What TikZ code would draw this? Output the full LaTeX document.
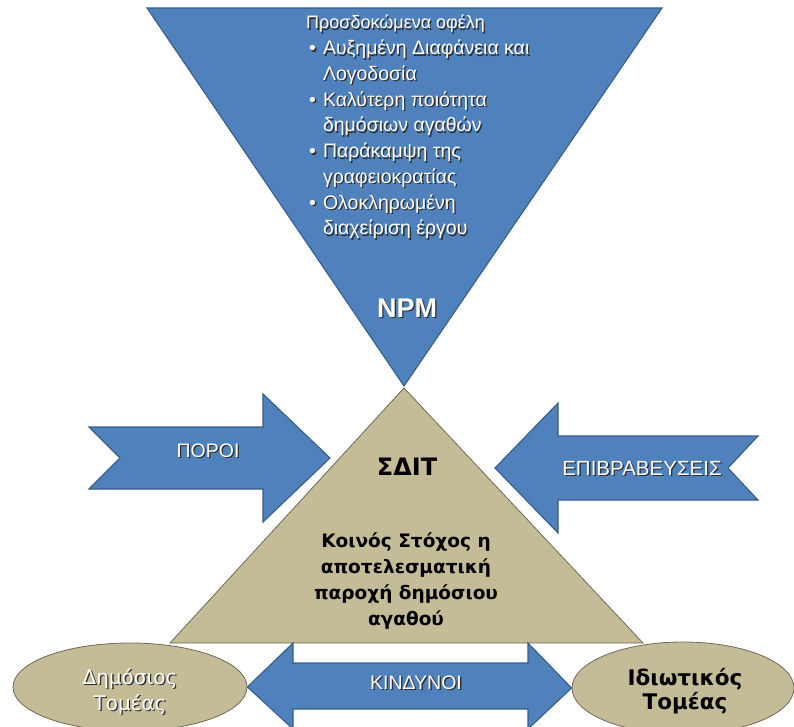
\documentclass[tikz,border=0pt]{standalone}
\usepackage{fontspec}
\setmainfont{Liberation Sans}
\newfontfamily\widesans{DejaVu Sans}
\usetikzlibrary{shapes.geometric}

\definecolor{npmblue}{HTML}{4F81BD}
\definecolor{npmedge}{HTML}{385D8A}
\definecolor{goaltan}{HTML}{C4BC96}
\definecolor{tanedge}{HTML}{6E6954}
\definecolor{textshade}{HTML}{2E2E2E}

\newcommand{\px}[2]{\fontsize{#1}{#2}\selectfont}

% white label with a dark drop shadow
\newcommand{\shadedlabel}[4]{%
  \node[#1, text=textshade, xshift=1.3pt, yshift=-1.3pt] (#2-shade) at #3 {#4};
  \node[#1, text=white] (#2) at #3 {#4};}

\begin{document}
\begin{tikzpicture}[x=1pt, y=-1pt,
  bluebody/.style={fill=npmblue, draw=npmedge, line width=1.1pt, line join=miter},
  tanbody/.style={fill=goaltan, draw=tanedge, line width=0.8pt},
  plain/.style={inner sep=0pt, anchor=base},
  sector/.style={ellipse, fill=goaltan, draw=tanedge, line width=0.8pt, inner sep=0pt}]

\useasboundingbox (0,0) rectangle (794,727);

% NPM funnel and the PPP pyramid
\coordinate (npm-l) at (147,8);
\coordinate (npm-r) at (662,8);
\coordinate (npm-tip) at (404,386);
\draw[bluebody] (npm-l) -- (npm-r) -- (npm-tip) -- cycle;

\coordinate (ppp-top) at (404,388);
\coordinate (ppp-r) at (643,643);
\coordinate (ppp-l) at (170,643);
\draw[tanbody] (ppp-top) -- (ppp-r) -- (ppp-l) -- cycle;

% resources arrow (notched tail)
\draw[bluebody] (89,427) -- (263,427) -- (263,394) -- (330,458) -- (263,522)
  -- (263,489) -- (89,489) -- (120,458) -- cycle;
% rewards arrow (notched tail)
\draw[bluebody] (758,436) -- (558,436) -- (558,403) -- (495,468) -- (558,533)
  -- (558,500) -- (758,500) -- (728,468) -- cycle;

% the two sectors
\node[sector, minimum width=234pt, minimum height=88pt] (public) at (130,687) {};
\node[sector, minimum width=222pt, minimum height=92pt] (private) at (683,688) {};

% risks: double arrow between the sectors
\draw[bluebody] (public.east) -- (293,643) -- (293,663) -- (528,663) -- (528,643)
  -- (private.west) -- (528,729) -- (528,709) -- (293,709) -- (293,729) -- cycle;

% labels
\shadedlabel{plain, anchor=base west, font=\px{19.5}{25.75}}{benefits}{(306,29)}{%
  \begin{tabular}[t]{@{\hspace{3pt}}l@{\hspace{7pt}}l@{}}
  \multicolumn{2}{@{}l@{}}{\fontsize{18}{25.75}\selectfont Προσδοκώμενα οφέλη}\\
  •&Αυξημένη Διαφάνεια και\\
   &Λογοδοσία\\
  •&Καλύτερη ποιότητα\\
   &δημόσιων αγαθών\\
  •&Παράκαμψη της\\
   &γραφειοκρατίας\\
  •&Ολοκληρωμένη\\
   &διαχείριση έργου
  \end{tabular}}

\shadedlabel{plain, font=\px{27}{30}\bfseries}{npm}{(407,317)}{NPM}
\shadedlabel{plain, font=\px{19.5}{24}}{resources}{(208,457)}{ΠΟΡΟΙ}
\shadedlabel{plain, font=\px{20.5}{24}}{rewards}{(642,475)}{ΕΠΙΒΡΑΒΕΥΣΕΙΣ}
\shadedlabel{plain, font=\px{19.5}{24}}{risks}{(416,689)}{ΚΙΝΔΥΝΟΙ}

\node[plain, font=\widesans\px{24}{28}\bfseries] (ppp) at (407,475) {ΣΔΙΤ};
\node[plain, font=\widesans\px{18.5}{26}\bfseries] (goal) at (406,547) {%
  \begin{tabular}[t]{@{}c@{}}
  Κοινός Στόχος η\\
  αποτελεσματική\\
  παροχή δημόσιου\\
  αγαθού
  \end{tabular}};

\shadedlabel{plain, font=\widesans\px{20}{26}}{public-name}{(130,684)}{%
  \begin{tabular}[t]{@{}c@{}}Δημόσιος\\Τομέας\end{tabular}}
\node[plain, font=\widesans\px{21.5}{24}\bfseries] (private-name) at (685,685) {%
  \begin{tabular}[t]{@{}c@{}}Ιδιωτικός\\Τομέας\end{tabular}};

\end{tikzpicture}
\end{document}
